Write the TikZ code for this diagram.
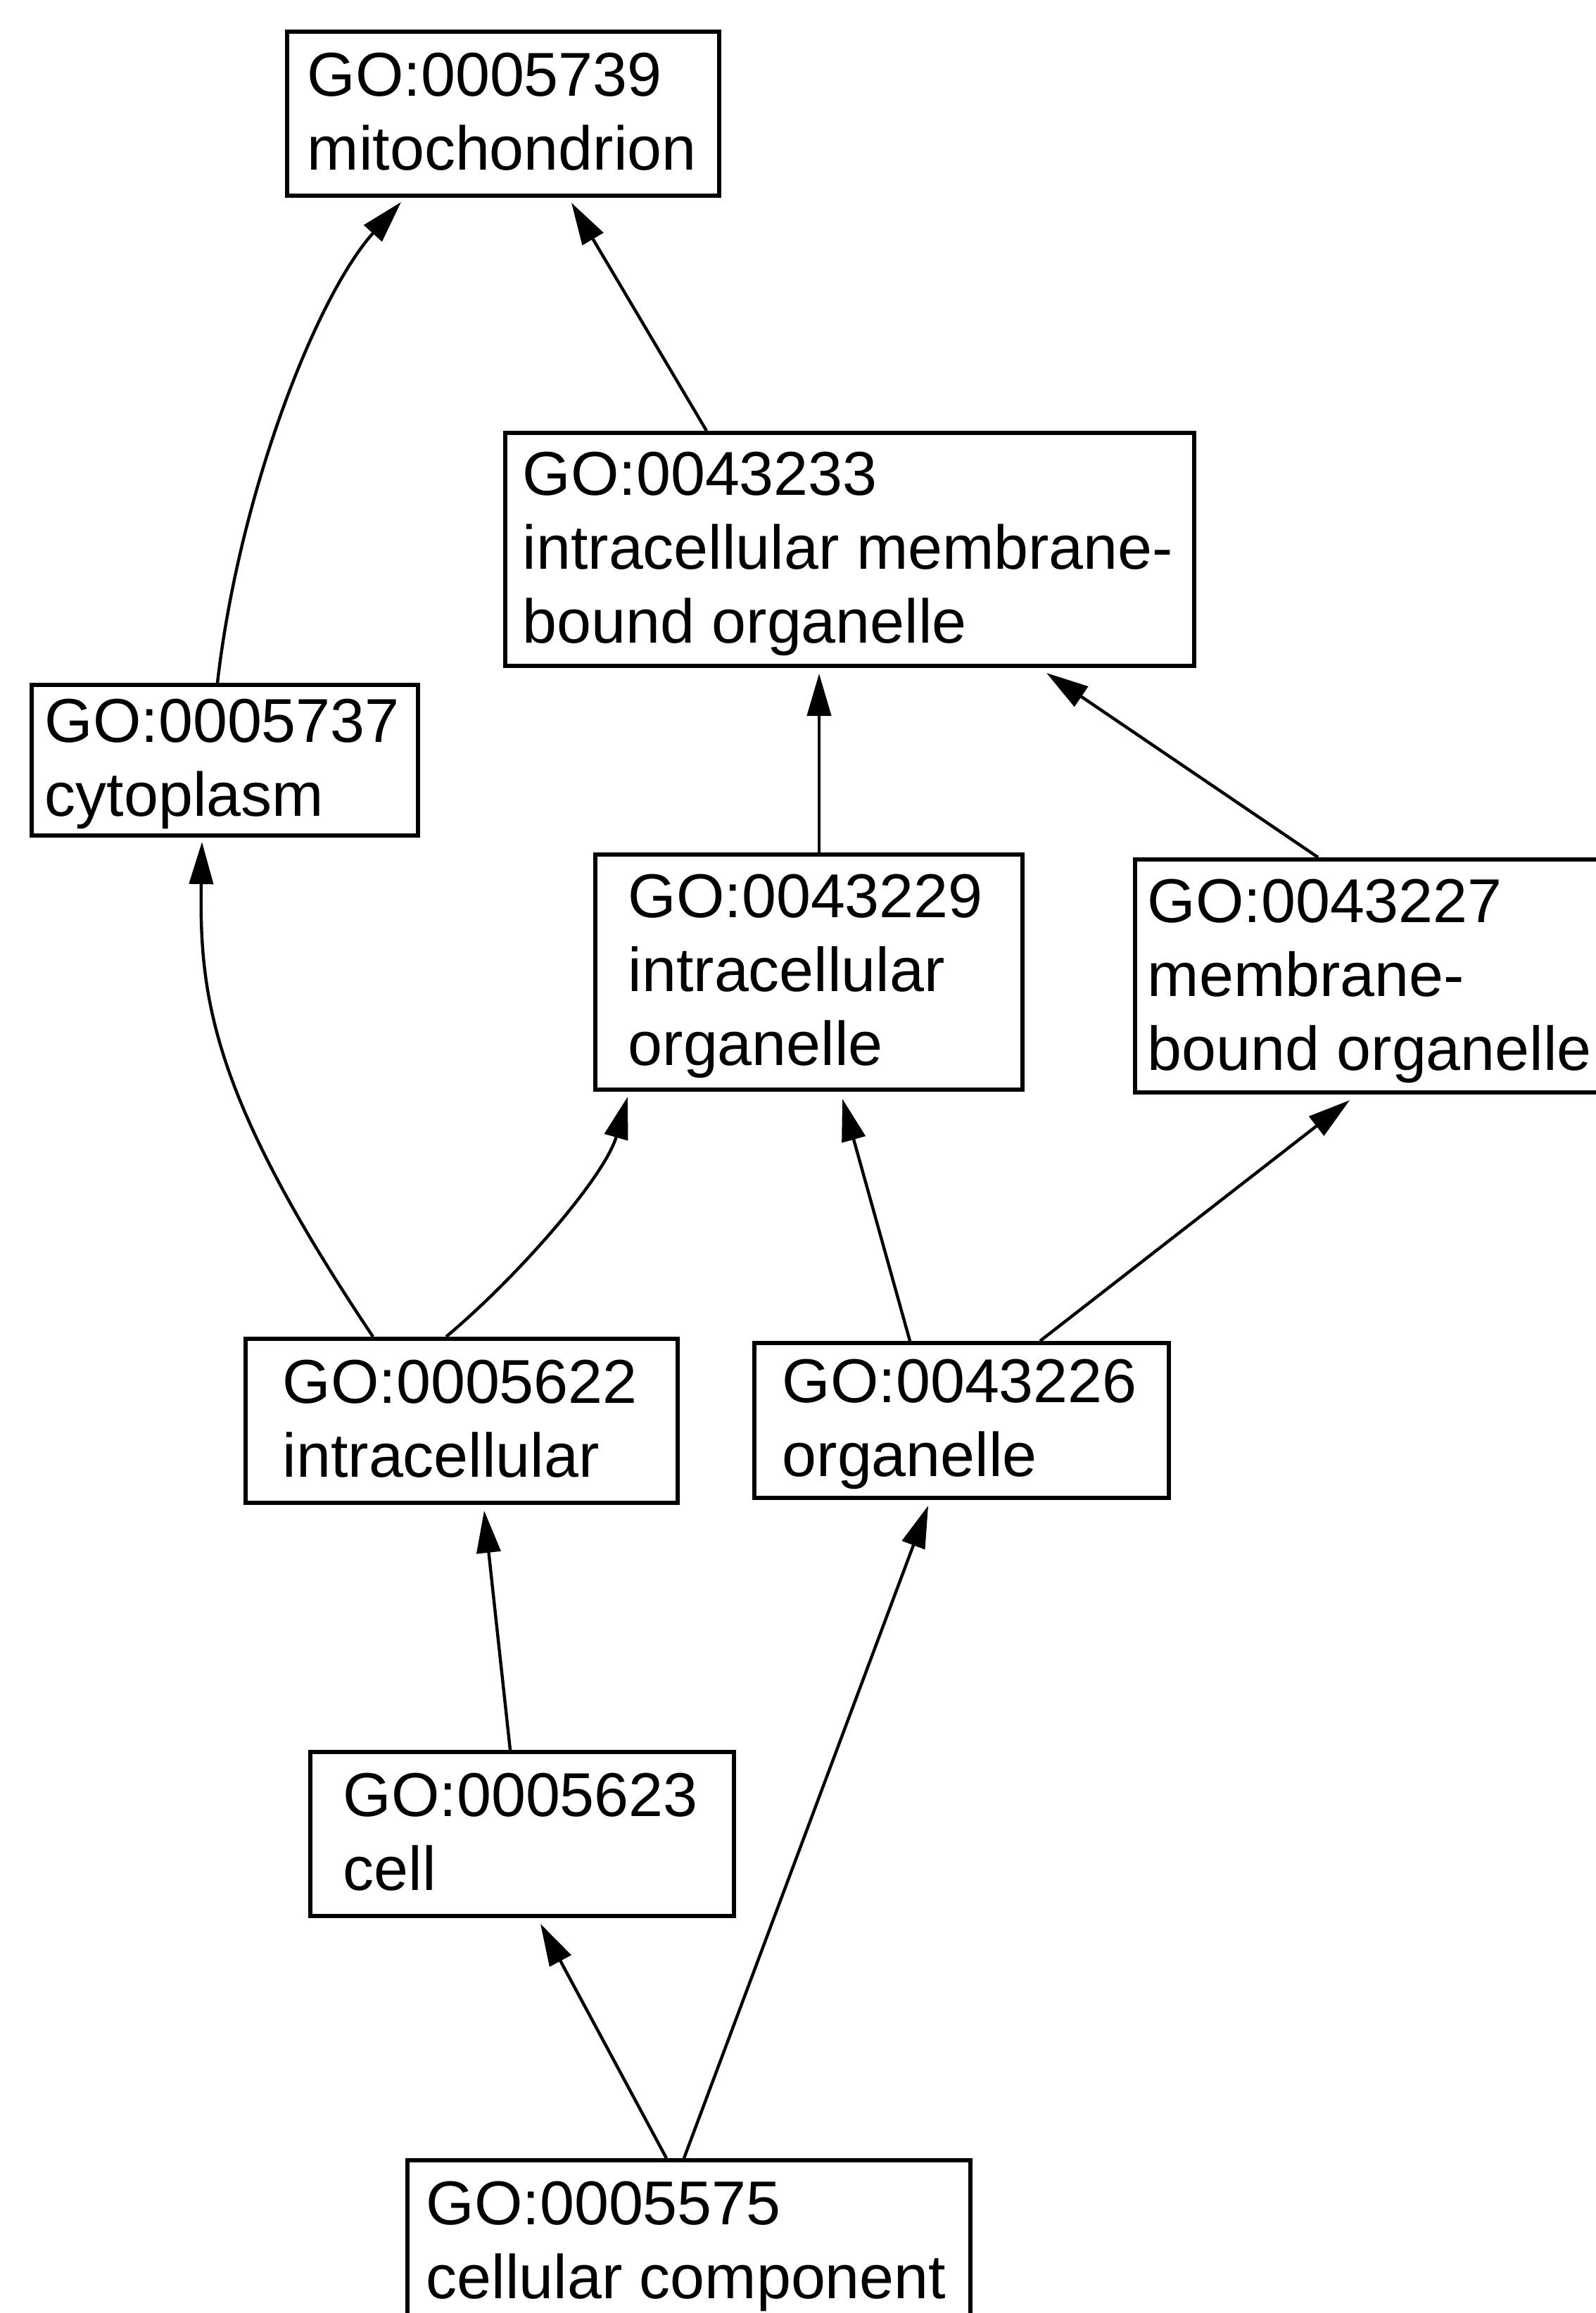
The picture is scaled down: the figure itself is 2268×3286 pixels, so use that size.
\documentclass[tikz,border=0pt]{standalone}
\usepackage{fontspec}
\setmainfont{Liberation Sans}
\usetikzlibrary{arrows.meta,calc}
\begin{document}
\begin{tikzpicture}[x=0.25pt,y=-0.25pt,
  gobox/.style={draw, line width=1.5pt, rectangle, inner sep=0pt, anchor=north west},
  golabel/.style={anchor=north west, inner sep=0pt, align=left, font=\fontsize{22}{26.25}\selectfont},
  isa/.style={line width=1.1pt, -{Triangle[length=15pt,width=8.5pt]}}]
\useasboundingbox (0,0) rectangle (2268,3286);
\clip (0,0) rectangle (2268,3286);
\fill[white] (0,0) rectangle (2268,3286);

% boxes
\node[gobox, minimum width=153.5pt, minimum height=58.25pt] (mito) at (405,42) {};
\node[golabel] (mitoT) at (436,74) {GO:0005739\\mitochondrion};

\node[gobox, minimum width=244.75pt, minimum height=82.75pt] (imbo) at (715,612) {};
\node[golabel] (imboT) at (742,641) {GO:0043233\\intracellular membrane-\\bound organelle};

\node[gobox, minimum width=137.25pt, minimum height=53.5pt] (cyto) at (42,970) {};
\node[golabel] (cytoT) at (63,992) {GO:0005737\\cytoplasm};

\node[gobox, minimum width=151.75pt, minimum height=83.5pt] (io) at (843,1211) {};
\node[golabel] (ioT) at (892,1241) {GO:0043229\\intracellular\\organelle};

\node[gobox, minimum width=168.75pt, minimum height=82.75pt] (mbo) at (1610,1218) {};
\node[golabel] (mboT) at (1630,1248) {GO:0043227\\membrane-\\bound organelle};

\node[gobox, minimum width=153.5pt, minimum height=58.25pt] (intra) at (346,1899) {};
\node[golabel] (intraT) at (401,1931) {GO:0005622\\intracellular};

\node[gobox, minimum width=147.25pt, minimum height=55pt] (org) at (1069,1905) {};
\node[golabel] (orgT) at (1111,1930) {GO:0043226\\organelle};

\node[gobox, minimum width=150.5pt, minimum height=58.25pt] (cell) at (438,2486) {};
\node[golabel] (cellT) at (487,2518) {GO:0005623\\cell};

\node[gobox, minimum width=200pt, minimum height=70pt] (cc) at (576,3066) {};
\node[golabel] (ccT) at (605,3098) {GO:0005575\\cellular component};

% connectors
\draw[isa] ($(cyto.north west)+(267,0)$) .. controls (340,700) and (450,420) .. ($(mito.south west)+(165,6)$);
\draw[isa] ($(imbo.north west)+(289,0)$) -- ($(mito.south west)+(407,7)$);
\draw[isa] ($(intra.north west)+(184,0)$) .. controls (303,1560) and (283,1420) .. ($(cyto.south west)+(245,6)$);
\draw[isa] ($(intra.north west)+(288,0)$) .. controls (740,1810) and (860,1670) .. ($(io.south west)+(49,7)$);
\draw[isa] ($(io.north west)+(321,0)$) -- ($(imbo.south west)+(449,8)$);
\draw[isa] ($(mbo.north west)+(263,0)$) -- ($(imbo.south west)+(772,7)$);
\draw[isa] ($(org.north west)+(224,0)$) -- ($(io.south west)+(354,10)$);
\draw[isa] ($(org.north west)+(409,0)$) -- ($(mbo.south west)+(308,8)$);
\draw[isa] ($(cell.north west)+(287,0)$) -- ($(intra.south west)+(342,8)$);
\draw[isa] ($(cc.north west)+(371,0)$) -- ($(cell.south west)+(330,8)$);
\draw[isa] ($(cc.north west)+(396,0)$) -- ($(org.south west)+(250,8)$);
\end{tikzpicture}
\end{document}
